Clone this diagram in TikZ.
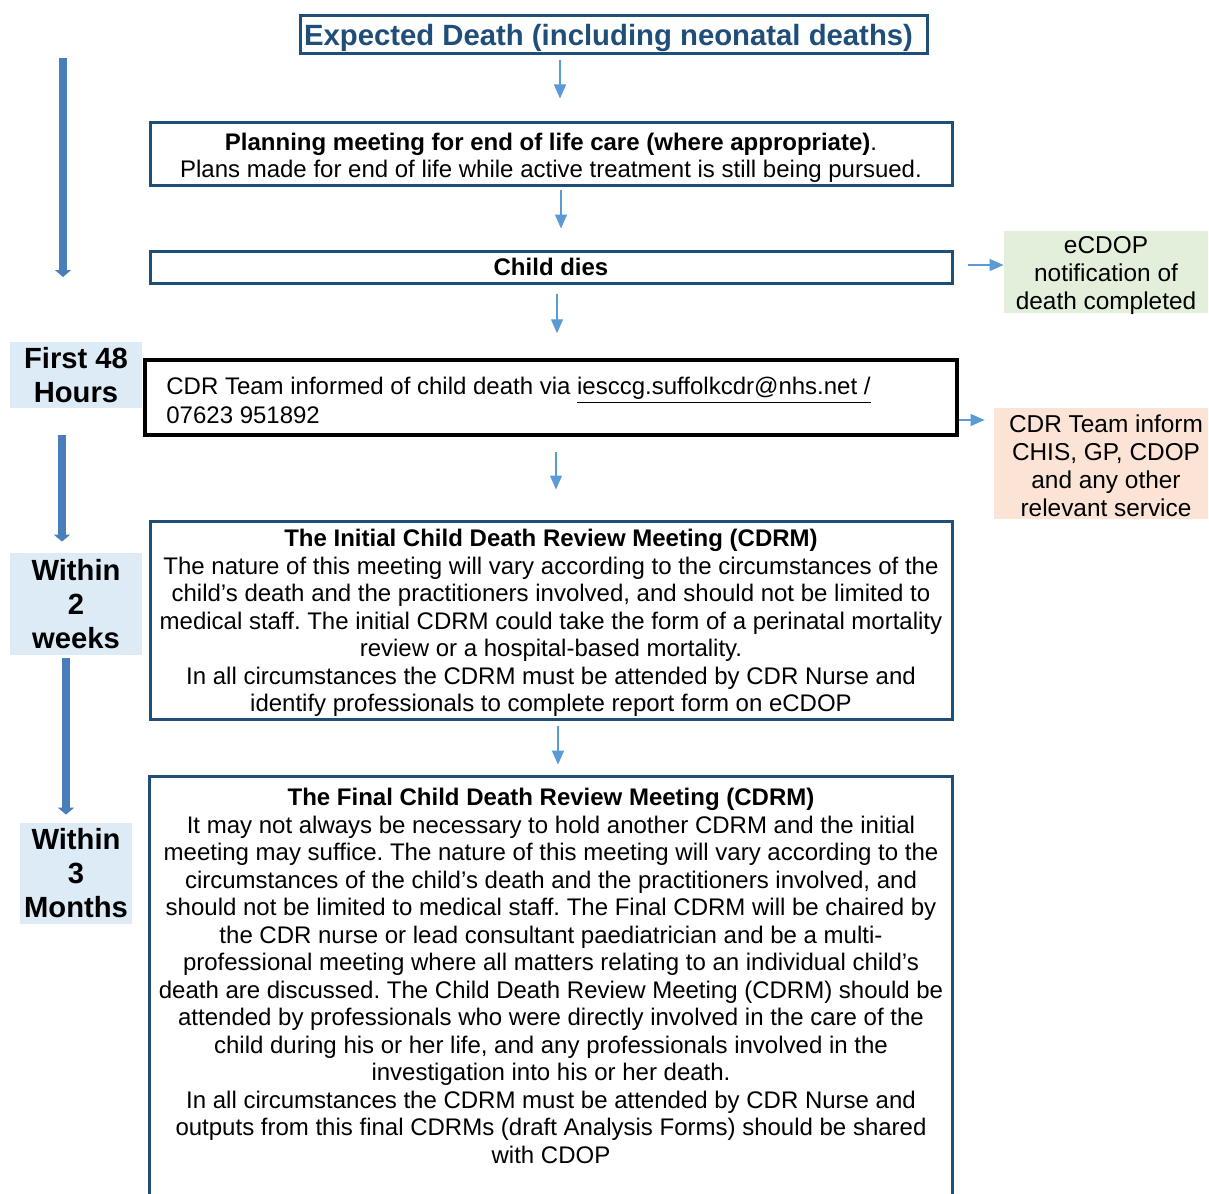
\documentclass[tikz,border=0pt]{standalone}
\usepackage{fontspec}
\setmainfont{Liberation Sans}
\usetikzlibrary{arrows.meta,calc}
\definecolor{navy}{HTML}{1F4E79}
\definecolor{arrowblue}{HTML}{5B9BD5}
\definecolor{bigblue}{HTML}{4A7EBB}
\definecolor{greenfill}{HTML}{E2EFDA}
\definecolor{peachfill}{HTML}{FBE4D5}
\definecolor{labelfill}{HTML}{DDEBF7}
\frenchspacing
\begin{document}
\begin{tikzpicture}[x=0.5pt,y=-0.5pt,
  bodyfont/.style={font=\fontsize{12}{13.75}\selectfont},
  flowbox/.style={draw=navy, line width=1.5pt, inner sep=0pt},
  boxtext/.style={inner sep=0pt, align=center, bodyfont},
  sidetext/.style={inner sep=0pt, align=center, font=\fontsize{12.2}{14}\selectfont},
  timelabel/.style={fill=labelfill, inner sep=0pt, align=center, font=\bfseries\fontsize{14.6}{17}\selectfont},
  thinarrow/.style={draw=arrowblue, line width=0.6pt, -{Triangle[width=6pt,length=7pt]}},
  bigarrow/.style={draw=bigblue, line width=4pt, -{Triangle[width=8pt,length=3.5pt]}}
]
\useasboundingbox (0,0) rectangle (1209,1193);
\fill[white] (0,0) rectangle (1209,1193);

% main flow boxes
\node[flowbox, minimum width=627*0.5pt, minimum height=38*0.5pt] (title) at (613.5,35) {};
\node[inner sep=0pt, text=navy, font=\bfseries\fontsize{14.65}{17}\selectfont] (titletext) at ($(title)+(-5,3)$)
  {Expected Death (including neonatal deaths)};

\node[flowbox, minimum width=802*0.5pt, minimum height=62*0.5pt] (planning) at (551,154) {};
\node[boxtext] (planningtext) at ($(planning)+(0,4)$)
  {\textbf{Planning meeting for end of life care (where appropriate)}.\\
   Plans made for end of life while active treatment is still being pursued.};

\node[flowbox, minimum width=802*0.5pt, minimum height=32*0.5pt] (childdies) at (551,267) {};
\node[boxtext, font=\bfseries\fontsize{12}{13.75}\selectfont] (childdiestext) at (childdies) {Child dies};

\node[draw=black, line width=1.75pt, minimum width=812*0.5pt, minimum height=75*0.5pt, inner sep=0pt] (cdr) at (551,397.5) {};
\node[inner sep=0pt, anchor=west, align=left, font=\fontsize{12}{14.5}\selectfont] (cdrtext) at (166,400.5)
  {CDR Team informed of child death via \underline{iesccg.suffolkcdr@nhs.net /}\\07623 951892};

\node[flowbox, minimum width=802*0.5pt, minimum height=198*0.5pt] (initial) at (551,620) {};
\node[boxtext] (initialtext) at ($(initial)+(0,3)$)
  {\textbf{The Initial Child Death Review Meeting (CDRM)}\\
   The nature of this meeting will vary according to the circumstances of the\\
   child’s death and the practitioners involved, and should not be limited to\\
   medical staff. The initial CDRM could take the form of a perinatal mortality\\
   review or a hospital-based mortality.\\
   In all circumstances the CDRM must be attended by CDR Nurse and\\
   identify professionals to complete report form on eCDOP};

% final box (open at the bottom)
\node[minimum width=802*0.5pt, minimum height=430*0.5pt, inner sep=0pt] (final) at (551,992) {};
\draw[navy, line width=1.5pt] (final.south west) -- (final.north west) -- (final.north east) -- (final.south east);
\node[anchor=north, boxtext] (finaltext) at (551,788)
  {\textbf{The Final Child Death Review Meeting (CDRM)}\\
   It may not always be necessary to hold another CDRM and the initial\\
   meeting may suffice. The nature of this meeting will vary according to the\\
   circumstances of the child’s death and the practitioners involved, and\\
   should not be limited to medical staff. The Final CDRM will be chaired by\\
   the CDR nurse or lead consultant paediatrician and be a multi-\\
   professional meeting where all matters relating to an individual child’s\\
   death are discussed. The Child Death Review Meeting (CDRM) should be\\
   attended by professionals who were directly involved in the care of the\\
   child during his or her life, and any professionals involved in the\\
   investigation into his or her death.\\
   In all circumstances the CDRM must be attended by CDR Nurse and\\
   outputs from this final CDRMs (draft Analysis Forms) should be shared\\
   with CDOP};

% side boxes
\node[fill=greenfill, inner sep=0pt, minimum width=204*0.5pt, minimum height=82*0.5pt] (ecdop) at (1106,272) {};
\node[sidetext] (ecdoptext) at ($(ecdop)+(0,4)$) {eCDOP\\notification of\\death completed};
\node[fill=peachfill, inner sep=0pt, minimum width=214*0.5pt, minimum height=111*0.5pt] (inform) at (1101,463.5) {};
\node[sidetext] (informtext) at ($(inform)+(5,2)$) {CDR Team inform\\CHIS, GP, CDOP\\and any other\\relevant service};

% time labels
\node[timelabel, minimum width=132*0.5pt, minimum height=66*0.5pt] (first48) at (76,375) {First 48\\Hours};
\node[timelabel, minimum width=132*0.5pt, minimum height=102*0.5pt] (within2) at (76,604) {Within\\2\\weeks};
\node[timelabel, minimum width=112*0.5pt, minimum height=101*0.5pt] (within3) at (76,873.5) {Within\\3\\Months};

% thin flow arrows
\coordinate (a1s) at (560,60);
\draw[thinarrow, shorten >=11.5pt] (a1s) -- (a1s |- planning.north);
\draw[thinarrow, shorten <=1.5pt, shorten >=10.5pt] (planning.south -| 561,0) -- (childdies.north -| 561,0);
\draw[thinarrow, shorten <=4.5pt, shorten >=12.5pt] (childdies.south -| 557,0) -- (cdr.north -| 557,0);
\draw[thinarrow, shorten <=7.5pt, shorten >=15pt] (cdr.south -| 556,0) -- (initial.north -| 556,0);
\draw[thinarrow, shorten <=2.5pt, shorten >=6pt] (initial.south -| 558,0) -- (final.north -| 558,0);
\draw[thinarrow, shorten <=7pt] (childdies.east |- 0,265) -- (ecdop.west |- 0,265);
\draw[thinarrow, shorten >=4.5pt] (cdr.east |- 0,420) -- (inform.west |- 0,420);

% big time arrows
\coordinate (t0) at (63,58);
\draw[bigarrow] (t0) -- (63,277);
\draw[bigarrow, shorten <=13.5pt, shorten >=5.5pt] (first48.south -| 62,0) -- (within2.north -| 62,0);
\draw[bigarrow, shorten <=1.5pt, shorten >=4pt] (within2.south -| 66,0) -- (within3.north -| 66,0);
\end{tikzpicture}
\end{document}
